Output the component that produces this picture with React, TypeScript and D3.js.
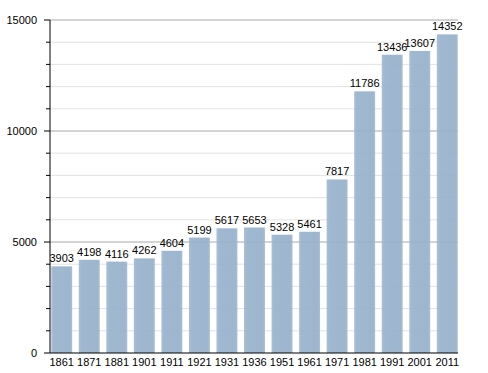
import React from "react";
import * as d3 from "d3";

const years = ["1861", "1871", "1881", "1901", "1911", "1921", "1931", "1936", "1951", "1961", "1971", "1981", "1991", "2001", "2011"];
const population = [3903, 4198, 4116, 4262, 4604, 5199, 5617, 5653, 5328, 5461, 7817, 11786, 13436, 13607, 14352];
const majorTicks = [0, 5000, 10000, 15000];
const minorTicks = d3.range(0, 15001, 1000);

const W = 488;
const H = 373;
const left = 50;
const right = 458;
const top = 20;
const bottom = 353;

export default function App() {
  const x = d3.scaleBand<string>()
    .domain(years)
    .range([48.5, 460.5])
    .paddingInner(0.24)
    .paddingOuter(0.1);

  const y = d3.scaleLinear().domain([0, 15000]).range([bottom, top]);

  const font = "'Liberation Sans', Arial, sans-serif";

  return (
    <svg width={W} height={H} style={{ position: "absolute", left: 0, top: 0, background: "#fff" }} fontFamily={font}>
      <defs>
        <linearGradient id="barGrad" x1="0" x2="1" y1="0" y2="0">
          <stop offset="0" stopColor="#a3bad2" />
          <stop offset="0.15" stopColor="#98b2cc" />
          <stop offset="0.9" stopColor="#97b0cb" />
          <stop offset="1" stopColor="#a6bbd1" />
        </linearGradient>
      </defs>

      {/* minor grid */}
      {minorTicks.filter(t => !majorTicks.includes(t)).map(t => (
        <g key={"m" + t}>
          <line x1={left} x2={right} y1={y(t)} y2={y(t)} stroke="#e3e3e3" />
          <line x1={left - 4} x2={left} y1={y(t)} y2={y(t)} stroke="#000" />
        </g>
      ))}
      {majorTicks.filter(t => t > 0).map(t => (
        <line key={"g" + t} x1={left} x2={right} y1={y(t)} y2={y(t)} stroke="#a8a8a8" />
      ))}

      {/* bars */}
      {years.map((yr, i) => (
        <rect key={yr} x={x(yr)} y={y(population[i])} width={x.bandwidth()}
          height={bottom - y(population[i])} fill="url(#barGrad)" opacity={0.93} />
      ))}

      {/* value labels */}
      {years.map((yr, i) => (
        <text key={"v" + yr} x={(x(yr) as number) + x.bandwidth() / 2} y={y(population[i]) - 4}
          textAnchor="middle" fontSize={11} fill="#000">{population[i]}</text>
      ))}

      {/* axes */}
      <line x1={left} x2={left} y1={top} y2={bottom} stroke="#000" />
      <line x1={left} x2={right} y1={bottom} y2={bottom} stroke="#000" />
      {majorTicks.map(t => (
        <g key={"t" + t}>
          <line x1={left - 6} x2={left} y1={y(t)} y2={y(t)} stroke="#000" />
          <text x={37} y={y(t)} dy="0.35em" textAnchor="end" fontSize={11} fill="#000">{t}</text>
        </g>
      ))}
      {years.map(yr => (
        <text key={"x" + yr} x={(x(yr) as number) + x.bandwidth() / 2} y={bottom + 13}
          textAnchor="middle" fontSize={11} fill="#000">{yr}</text>
      ))}
    </svg>
  );
}
